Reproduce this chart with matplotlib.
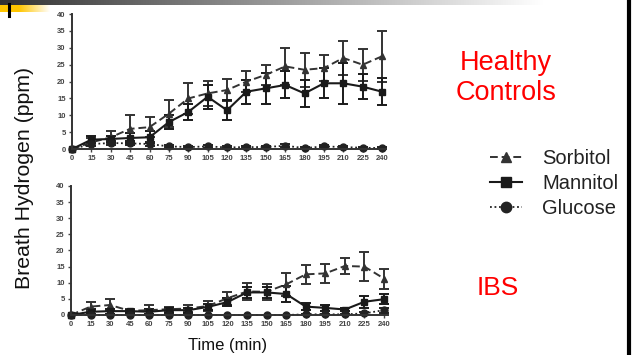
import numpy as np
import matplotlib
matplotlib.use("Agg")
import matplotlib.pyplot as plt

plt.rcParams["font.family"] = ["Liberation Sans", "DejaVu Sans"]

TIME = [0, 15, 30, 45, 60, 75, 90, 105, 120, 135, 150, 165, 180, 195, 210, 225, 240]

# Healthy controls
hc_sorb = [0, 2, 3.5, 6, 6.5, 10.5, 15, 16.5, 17.5, 20, 22, 24.5, 23.5, 24, 27, 25, 27.5]
hc_sorb_err = [0, 1.2, 1.8, 4, 3, 4, 4.5, 3.8, 3.3, 3, 3, 5.5, 5, 3.8, 5, 4.7, 7.5]
hc_mann = [0, 2.8, 3, 3.3, 3.5, 8, 11, 15.5, 11.5, 17, 18, 19, 16.5, 19.5, 19.5, 18.5, 17]
hc_mann_err = [0, 1, 1, 1.5, 1.8, 2, 2.5, 3.5, 3, 3.5, 4.5, 4, 4, 4.5, 6, 3.7, 4]
hc_gluc = [0, 1.5, 1.8, 1.7, 1.5, 0.8, 0.6, 0.8, 0.5, 0.6, 0.6, 1, 0.3, 0.8, 0.6, 0.4, 0.3]
hc_gluc_err = [0, 0.5, 0.5, 0.6, 0.6, 0.3, 0.3, 0.5, 0.3, 0.3, 0.3, 0.4, 0.2, 0.3, 0.3, 0.2, 0.2]

# IBS
ibs_sorb = [0, 2.6, 3.1, 1.3, 1.5, 1.8, 2, 2.8, 5.2, 7.3, 7.2, 9.5, 12.6, 12.9, 15.2, 15, 11.3]
ibs_sorb_err = [0, 1.5, 1.8, 0.6, 1.5, 0.8, 1.2, 1.6, 2, 2.7, 2.5, 3.6, 3, 3, 2.5, 4.6, 3.1]
ibs_mann = [0, 1, 1.2, 1.2, 1, 1.5, 1.5, 2.5, 4, 7, 7, 6.5, 2.6, 2.2, 1.7, 4.1, 4.9]
ibs_mann_err = [0, 0.8, 0.8, 0.5, 0.8, 0.8, 0.8, 1, 1.2, 1.8, 1.8, 2.4, 1, 1, 0.6, 1.8, 1.5]
ibs_gluc = [0, 0, 0, 0, 0, 0, 0, 0, 0, 0, 0, 0, 0.2, 0.2, 0.2, 0.5, 1.5]
ibs_gluc_err = [0, 0, 0, 0, 0, 0, 0, 0, 0, 0, 0, 0, 0.2, 0.2, 0.2, 0.4, 0.8]

YTICKS = [0, 5, 10, 15, 20, 25, 30, 35, 40]
LABELS = ["Sorbitol", "Mannitol", "Glucose"]

fig = plt.figure(figsize=(6.36, 3.55), dpi=100)

# slide decorations
bg = fig.add_axes([0, 0, 1, 1])
bg.set_xlim(0, 636); bg.set_ylim(355, 0); bg.axis("off")
grad = np.clip(np.linspace(50, 290, 636) / 255, 0, 1)
bg.imshow(np.tile(grad, (1, 1))[:, :, None] * np.ones(3), extent=(0, 636, 5, 0), aspect="auto")
yel = np.ones((1, 60, 4)); yel[..., 0] = 1; yel[..., 1] = 0.78; yel[..., 2] = 0
yel[..., 3] = np.clip(np.linspace(1.6, -0.3, 60), 0, 1)
bg.imshow(yel, extent=(0, 60, 12, 5), aspect="auto")
bg.plot([9, 9], [4, 16], color="black", lw=2.2)
bg.plot([629, 629], [0, 355], color="black", lw=3)
bg.set_xlim(0, 636); bg.set_ylim(355, 0)

def panel(rect, sorb, sorb_e, mann, mann_e, gluc, gluc_e):
    ax = fig.add_axes(rect)
    ax.patch.set_alpha(0)
    kw = dict(capsize=3.5, elinewidth=1.4, capthick=1.4, markersize=5)
    hs = ax.errorbar(TIME, sorb, yerr=sorb_e, color="#333333", ls=(0, (4, 2)), lw=1.4, marker="^", **kw)
    hm = ax.errorbar(TIME, mann, yerr=mann_e, color="#1a1a1a", ls="-", lw=1.5, marker="s", **kw)
    hg = ax.errorbar(TIME, gluc, yerr=gluc_e, color="#222222", ls=(0, (1, 1.5)), lw=1.3, marker="o", **kw)
    ax.set_xlim(0, 243)
    ax.set_ylim(0, 40)
    ax.set_xticks(TIME)
    ax.set_yticks(YTICKS)
    ax.tick_params(labelsize=5.5, colors="#444444", length=2.5, width=1, pad=2)
    for t in ax.get_xticklabels() + ax.get_yticklabels():
        t.set_fontweight("bold")
    for s in ("top", "right"):
        ax.spines[s].set_visible(False)
    for s in ("left", "bottom"):
        ax.spines[s].set_linewidth(1.4)
        ax.spines[s].set_color("#333333")
    for h in (hs, hm, hg):
        for cl in h[2]:
            cl.set_clip_on(False)
        h[0].set_clip_on(False)
    return ax, (hs[0], hm[0], hg[0])

ax1, handles = panel([0.1132, 0.580, 0.4936, 0.3803],
                     hc_sorb, hc_sorb_err, hc_mann, hc_mann_err, hc_gluc, hc_gluc_err)
ax2, _ = panel([0.1116, 0.1127, 0.4983, 0.3634],
               ibs_sorb, ibs_sorb_err, ibs_mann, ibs_mann_err, ibs_gluc, ibs_gluc_err)

fig.text(0.038, 0.50, "Breath Hydrogen (ppm)", rotation=90, ha="center", va="center",
         fontsize=15.3, color="#111111")
fig.text(0.358, 0.028, "Time (min)", ha="center", va="center", fontsize=12, color="#111111")
fig.text(0.795, 0.78, "Healthy\nControls", ha="center", va="center", fontsize=19.5,
         color="#ff0000", linespacing=1.2)
fig.text(0.782, 0.19, "IBS", ha="center", va="center", fontsize=19, color="#ff0000")

leg = fig.legend(handles, LABELS, loc="center left", bbox_to_anchor=(0.770, 0.483),
                 frameon=False, fontsize=14.5, handlelength=1.6, handletextpad=1.0,
                 labelspacing=0.3, borderpad=0, borderaxespad=0, markerscale=1.5)
for t in leg.get_texts():
    t.set_color("#222222")

fig.savefig("out.png", dpi=100)
